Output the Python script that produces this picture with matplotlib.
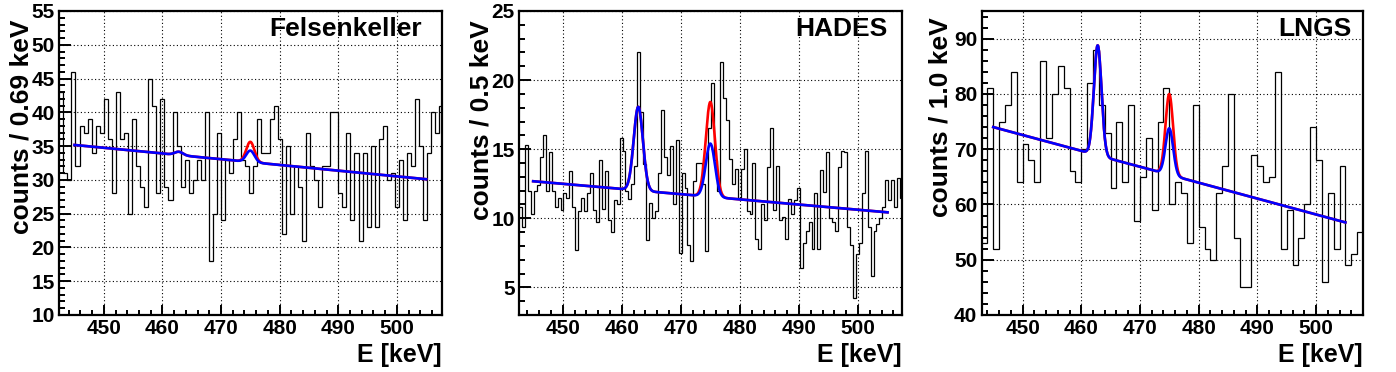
import numpy as np
import matplotlib
matplotlib.use("Agg")
import matplotlib.pyplot as plt
from matplotlib.ticker import MultipleLocator

# Contagens por bin
felsenkeller_counts = [
    43, 31, 30, 46, 32, 38, 37, 39, 34, 38,
    37, 42, 36, 28, 43, 36, 37, 25, 39, 32,
    29, 26, 45, 41, 28, 42, 29, 27, 40, 35,
    29, 33, 28, 30, 33, 30, 40, 18, 25, 37,
    24, 33, 31, 36, 40, 33, 32, 28, 32, 39,
    34, 34, 39, 41, 36, 22, 35, 25, 32, 29,
    21, 37, 32, 30, 26, 32, 32, 40, 40, 28,
    26, 37, 24, 34, 21, 34, 23, 35, 23, 36,
    38, 30, 31, 26, 33, 24, 34, 32, 42, 35,
    24, 34, 40, 37, 41,
]
hades_counts = [
    10.8, 9.4, 15.3, 12, 10.3, 12, 12.4, 14.4, 16, 12,
    14.8, 12, 10.8, 11.5, 10.6, 11.8, 11.5, 13.4, 10.8, 7.7,
    10.5, 11.5, 10.5, 11.8, 13.3, 10.6, 9.7, 14.2, 10.7, 13.4,
    9.9, 9, 11.3, 11, 15.8, 14.9, 12, 11.4, 12.5, 13.8,
    22, 17.7, 13.9, 8.4, 11.1, 10, 10.5, 13.3, 17.8, 14.4,
    13.1, 15.2, 11, 15.7, 7.5, 13.3, 12.2, 8.1, 6.9, 12.7,
    14, 14, 12.5, 7.6, 16.5, 19.8, 14.2, 12, 21.3, 18.7,
    17.1, 14.3, 12.5, 13.6, 11.5, 13.6, 15, 10.5, 10.3, 14,
    8.5, 7.8, 11, 9.9, 13.7, 16.5, 10.6, 13.8, 9.9, 10.1,
    8.5, 11.4, 10.3, 11.3, 12.2, 6.4, 8.2, 9.1, 9.7, 7.8,
    11.8, 7.8, 13.5, 11.9, 14.8, 10, 9.7, 9.1, 13.7, 14.9,
    14.8, 9.4, 8.1, 4.2, 7.4, 8.2, 11.8, 14.9, 9.4, 5.8,
    9.1, 9.6, 10, 10.8, 12.8, 11.3, 12.8, 10.8, 12.9, 11.5,
]
lngs_counts = [
    53, 81, 52, 75, 78, 84, 64, 71, 68, 64,
    86, 72, 80, 85, 81, 66, 64, 70, 82, 88,
    78, 73, 63, 75, 64, 78, 57, 65, 72, 59,
    75, 81, 60, 64, 62, 53, 78, 56, 52, 50,
    62, 67, 80, 54, 45, 45, 69, 67, 64, 65,
    84, 52, 59, 49, 54, 60, 74, 68, 46, 62,
    52, 67, 49, 51, 55,
]

lab_names = ["Felsenkeller", "HADES", "LNGS"]
y_labels = ["counts / 0.69 keV", "counts / 0.5 keV", "counts / 1.0 keV"]
hist_start = [442.4, 442.63, 443.0]
bin_width = [0.69, 0.5, 1.0]
x_limits = [(442.35, 507.7), (442.6, 507.45), (443.0, 508.0)]
y_limits = [(10, 55), (3, 25), (40, 95)]
y_major = [5, 5, 10]
y_minor = [1, 1, 2]

# Parâmetros do ajuste (fundo linear + dois picos gaussianos)
fit_range = (445.0, 505.0)
bg_at_445 = [35.17, 12.68, 74.0]
bg_at_505 = [30.10, 10.43, 56.75]
peak_energies = [462.8, 475.0]
peak1_amp = [0.5, 6.05, 19.9]
peak2_amp_fit = [1.7, 3.85, 8.4]
peak2_amp_limit = [3.0, 6.86, 14.6]
peak_sigma = [0.7, 0.78, 0.65]

W, H = 1396, 372
ax_boxes = [(59, 442), (519, 902), (981.5, 1363)]
ax_top, ax_bottom = 11, 315
ylabel_pos = [(22, 20), (482, 20), (941, 17)]
title_pos = [(421.5, 36.5), (888, 36.5), (1351, 36.5)]

plt.rcParams["font.family"] = ["Liberation Sans", "DejaVu Sans"]
plt.rcParams["font.weight"] = "bold"


def fit_curve(i, e, amp2):
    bg = bg_at_445[i] + (bg_at_505[i] - bg_at_445[i]) * (e - 445.0) / 60.0
    g1 = peak1_amp[i] * np.exp(-0.5 * ((e - peak_energies[0]) / peak_sigma[i]) ** 2)
    g2 = amp2 * np.exp(-0.5 * ((e - peak_energies[1]) / peak_sigma[i]) ** 2)
    return bg + g1 + g2


def draw_panel(fig, i, counts):
    x0, x1 = ax_boxes[i]
    ax = fig.add_axes([x0 / W, 1 - ax_bottom / H, (x1 - x0) / W, (ax_bottom - ax_top) / H])

    edges = hist_start[i] + bin_width[i] * np.arange(len(counts) + 1)
    ax.stairs(counts, edges, baseline=None, color="black", lw=0.9, zorder=3)

    e = np.linspace(fit_range[0], fit_range[1], 1200)
    ax.plot(e, fit_curve(i, e, peak2_amp_limit[i]), color="#ff0000", lw=1.9, zorder=4)
    ax.plot(e, fit_curve(i, e, peak2_amp_fit[i]), color="#0000ff", lw=1.9, zorder=5)

    ax.set_xlim(*x_limits[i])
    ax.set_ylim(*y_limits[i])
    ax.xaxis.set_major_locator(MultipleLocator(10))
    ax.xaxis.set_minor_locator(MultipleLocator(2))
    ax.yaxis.set_major_locator(MultipleLocator(y_major[i]))
    ax.yaxis.set_minor_locator(MultipleLocator(y_minor[i]))
    ax.grid(True, which="major", color="black", lw=0.8, ls=(0, (1, 2.2)))
    ax.set_axisbelow(True)

    for s in ax.spines.values():
        s.set_linewidth(1.6)
    ax.tick_params(axis="both", which="both", direction="in", width=1.4,
                   labelsize=15, top=False, right=False)
    ax.tick_params(axis="x", which="major", length=7.2, pad=3)
    ax.tick_params(axis="x", which="minor", length=3.4)
    ax.tick_params(axis="y", which="major", length=8.4, pad=3)
    ax.tick_params(axis="y", which="minor", length=4.3)
    for lbl in ax.get_xticklabels() + ax.get_yticklabels():
        lbl.set_fontweight("bold")

    lx, ly = ylabel_pos[i]
    fig.text(lx / W, 1 - ly / H, y_labels[i], rotation=90, ha="center", va="top",
             fontsize=19, fontweight="bold")
    fig.text(x1 / W, 1 - 362 / H, "E [keV]", ha="right", va="baseline",
             fontsize=18, fontweight="bold")
    tx, ty = title_pos[i]
    fig.text(tx / W, 1 - ty / H, lab_names[i], ha="right", va="baseline",
             fontsize=19, fontweight="bold")
    return ax


def main():
    fig = plt.figure(figsize=(W / 100, H / 100), dpi=100)
    fig.patch.set_facecolor("white")
    for i, counts in enumerate([felsenkeller_counts, hades_counts, lngs_counts]):
        draw_panel(fig, i, counts)
    fig.savefig("out.png", dpi=100)


if __name__ == "__main__":
    main()
